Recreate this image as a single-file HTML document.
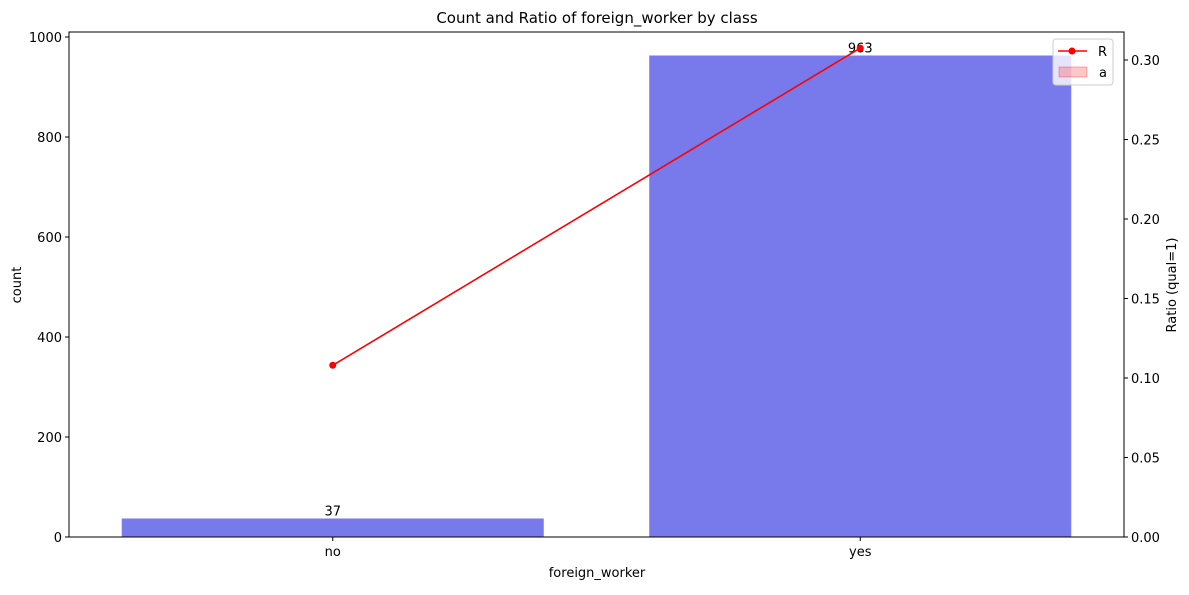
<!DOCTYPE html>
<html><head><meta charset="utf-8"><style>
body{margin:0;background:#fff;font-family:"Liberation Sans","DejaVu Sans",sans-serif;}
svg text{font-family:"DejaVu Sans","Liberation Sans",sans-serif;font-size:13px;fill:#000}
</style></head><body>
<svg id="c" width="1189" height="590"></svg>
<script>
const categories=["no","yes"];
const counts=[37,963];
const ratios=[0.108,0.3075];
const leftTicks=[0,200,400,600,800,1000];
const rightTicks=[0,0.05,0.10,0.15,0.20,0.25,0.30];
const L=69,R=1124,T=32,B=537;
const band=(R-L)/categories.length;
const xc=i=>L+band*(i+0.5);
const yL=v=>B-v*0.5;
const yR=v=>B-v*1590;
const svg=document.getElementById('c');
const NS='http://www.w3.org/2000/svg';
function el(t,a,txt){const e=document.createElementNS(NS,t);for(const k in a)e.setAttribute(k,a[k]);if(txt!==undefined)e.textContent=txt;svg.appendChild(e);return e;}
let e;
e=el('text',{x:597,y:23,'text-anchor':'middle',style:'font-size:15px'},'Count and Ratio of foreign_worker by class');


categories.forEach((c,i)=>{
 const w=band*0.8;
 e=el('rect',{x:xc(i)-w/2,y:yL(counts[i]),width:w,height:B-yL(counts[i]),fill:'#7879eb'});
 
 
 e=el('text',{x:xc(i),y:yL(counts[i])-3,'text-anchor':'middle'},String(counts[i]));
 
 
 e=el('line',{x1:xc(i),x2:xc(i),y1:B,y2:B+4,stroke:'#000'});
 
 
 e=el('text',{x:xc(i),y:B+19,'text-anchor':'middle'},c);
 
 
});
leftTicks.forEach(v=>{
 e=el('line',{x1:L-4,x2:L,y1:yL(v),y2:yL(v),stroke:'#000'});
 
 
 e=el('text',{x:L-7,y:yL(v)+5,'text-anchor':'end'},String(v));
 
 
});
rightTicks.forEach(v=>{
 e=el('line',{x1:R,x2:R+4,y1:yR(v),y2:yR(v),stroke:'#000'});
 
 
 e=el('text',{x:R+7,y:yR(v)+5},v.toFixed(2));
 
 
});
e=el('polyline',{points:ratios.map((r,i)=>xc(i)+','+yR(r)).join(' '),fill:'none',stroke:'#f00','stroke-width':1.6});


ratios.forEach((r,i)=>{
 e=el('circle',{cx:xc(i),cy:yR(r),r:3.5,fill:'#f00'});
 
 
});
e=el('rect',{x:L,y:T,width:R-L,height:B-T,fill:'none',stroke:'#000','stroke-width':1});


e=el('text',{x:597,y:577,'text-anchor':'middle'},'foreign_worker');


e=el('text',{x:21,y:285,'text-anchor':'middle',transform:'rotate(-90 21 285)'},'count');


e=el('text',{x:1176,y:285,'text-anchor':'middle',transform:'rotate(-90 1176 285)'},'Ratio (qual=1)');


e=el('rect',{x:1053,y:39,width:60,height:46,rx:3,fill:'rgba(255,255,255,0.8)',stroke:'#ccc'});


e=el('line',{x1:1058,x2:1087,y1:51,y2:51,stroke:'#f00','stroke-width':1.6});


e=el('circle',{cx:1072,cy:51,r:3.5,fill:'#f00'});


e=el('text',{x:1098,y:56},'R');


e=el('rect',{x:1059,y:67,width:28,height:10,fill:'rgba(255,0,0,0.22)',stroke:'rgba(255,0,0,0.3)'});


e=el('text',{x:1099,y:77},'a');


</script>
</body></html>
